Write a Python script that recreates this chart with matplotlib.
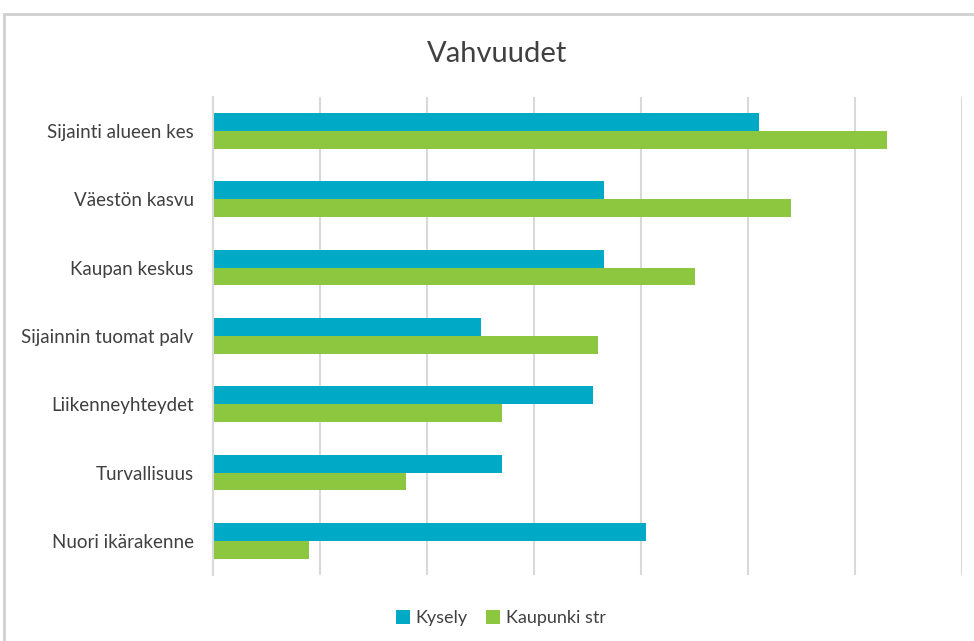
import matplotlib.pyplot as plt
import matplotlib.patches as mpatches
import numpy as np

plt.rcParams['font.family'] = ['Lato', 'DejaVu Sans']

# Categories listed top to bottom
categories = ['Sijainti alueen kes', 'Väestön kasvu', 'Kaupan keskus',
              'Sijainnin tuomat palv', 'Liikenneyhteydet', 'Turvallisuus',
              'Nuori ikärakenne']
kysely = [5.1, 3.65, 3.65, 2.5, 3.55, 2.7, 4.05]
kaupunki = [6.3, 5.4, 4.5, 3.6, 2.7, 1.8, 0.9]

teal = '#00A9C5'
green = '#8DC63F'

fig = plt.figure(figsize=(9.74, 6.41), dpi=100)
ax = fig.add_axes([0.2187, 0.103, 0.769, 0.746])

y = np.arange(len(categories))
h = 0.26
ax.barh(y - h / 2, kysely, height=h, color=teal, label='Kysely')
ax.barh(y + h / 2, kaupunki, height=h, color=green, label='Kaupunki str')

ax.set_xlim(0, 7)
ax.set_ylim(len(categories) - 0.5, -0.5)
ax.set_yticks(y)
ax.set_yticklabels(categories, fontsize=13.5, color='#404040')
ax.tick_params(axis='y', length=0, pad=14)
ax.set_xticks(np.arange(0, 8))
ax.tick_params(axis='x', length=0, labelbottom=False)

# Vertical gridlines
ax.grid(axis='x', color='#D9D9D9', linewidth=1.5)
ax.set_axisbelow(True)
for s in ['top', 'right', 'bottom']:
    ax.spines[s].set_visible(False)
ax.spines['left'].set_color('#D9D9D9')
ax.spines['left'].set_linewidth(1.5)

fig.suptitle('Vahvuudet', x=0.51, y=0.936, fontsize=21, color='#404040')

fig.legend(loc='center', bbox_to_anchor=(0.514, 0.036), ncol=2, frameon=False,
           fontsize=13, handlelength=0.8, handleheight=0.8, handletextpad=0.3,
           columnspacing=1.0, labelcolor='#404040')

# Outer chart frame (cropped on the right and bottom)
fig.patches.append(mpatches.Rectangle((4 / 974, -0.1), 1.2, 1 - 14 / 641 + 0.1,
                                      transform=fig.transFigure, fill=False,
                                      edgecolor='#D0D0D0', linewidth=2))

fig.savefig('out.png', dpi=100)
